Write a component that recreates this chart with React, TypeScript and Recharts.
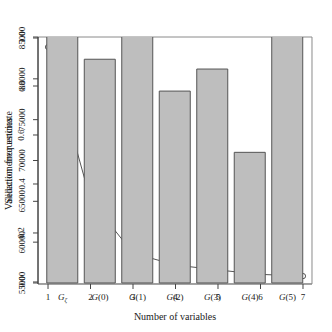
import React from 'react';
import { ComposedChart, Bar, Line, XAxis, YAxis } from 'recharts';

const categories = ['G_ζ', 'G(0)', 'G(1)', 'G(2)', 'G(3)', 'G(4)', 'G(5)'];
const errorEstimates = [87500, 82400, 86500, 78500, 81200, 71000, 88500];
const numVariables = [1, 2, 3, 4, 5, 6, 7];
const selectionFreq = [0.959, 0.335, 0.118, 0.069, 0.049, 0.031, 0.024];
const barBase = 55000;
const errTicks = [55000, 60000, 65000, 70000, 75000, 80000, 85000];
const freqTicks = [0, 0.2, 0.4, 0.6, 0.8, 1.0];
const varTicks = [1, 2, 3, 4, 5, 6, 7];

const data = categories.map((c, i) => ({
  name: c,
  x: numVariables[i],
  err: errorEstimates[i],
  freq: selectionFreq[i],
}));

const FONT = "'Liberation Serif', 'DejaVu Serif', serif";
const AXIS = '#444';
const BOX = '#8a8a8a';
const TXT = '#1a1a1a';

const YTick = (props: any) => {
  const { x, y, payload, fmt } = props;
  return (
    <text x={x} y={y} transform={`rotate(-90 ${x} ${y})`} textAnchor="middle" fontSize={9} fontFamily={FONT} fill={TXT}>
      {fmt(payload.value)}
    </text>
  );
};

const NumXTick = (props: any) => {
  const { x, y, payload } = props;
  return (
    <text x={x} y={y + 8} textAnchor="middle" fontSize={9} fontFamily={FONT} fill={TXT}>
      {String(payload.value)}
    </text>
  );
};

const CatXTick = (props: any) => {
  const { x, y, payload } = props;
  const v: string = payload.value;
  if (v.startsWith('G_')) {
    return (
      <text x={x} y={y + 8} textAnchor="middle" fontSize={9} fontFamily={FONT} fill={TXT}>
        <tspan fontStyle="italic">G</tspan>
        <tspan fontStyle="italic" fontSize={6.5} dy={2}>{v.slice(2)}</tspan>
      </text>
    );
  }
  return (
    <text x={x} y={y + 8} textAnchor="middle" fontSize={9} fontFamily={FONT} fill={TXT}>
      <tspan fontStyle="italic">G</tspan>
      <tspan>{v.slice(1)}</tspan>
    </text>
  );
};

const yTitle = (value: string) => (p: any) => {
  const vb = p.viewBox || {};
  const cx = (vb.x ?? 38) - 26;
  const cy = (vb.y ?? 37) + (vb.height ?? 247) / 2;
  return (
    <text x={cx} y={cy} transform={`rotate(-90 ${cx} ${cy})`} textAnchor="middle" fontSize={10} fontFamily={FONT} fill={TXT}>
      {value}
    </text>
  );
};

const xTitle = (value: string) => (p: any) => {
  const vb = p.viewBox || {};
  const cx = (vb.x ?? 38) + (vb.width ?? 274) / 2;
  const cy = (vb.y ?? 284) + 36;
  return (
    <text x={cx} y={cy} textAnchor="middle" fontSize={10} fontFamily={FONT} fill={TXT}>
      {value}
    </text>
  );
};

export default function App() {
  return (
    <div style={{ position: 'absolute', left: 0, top: 0, background: '#fff' }}>
      <ComposedChart width={332} height={332} data={data} margin={{ top: 37, right: 20, bottom: 48, left: 38 }}>
        <XAxis
          xAxisId="cat"
          dataKey="name"
          type="category"
          padding={{ left: 5.75, right: 5.75 }}
          height={0.01}
          axisLine={false}
          tickLine={false}
          tickSize={5}
          tickMargin={3}
          interval={0}
          tick={<CatXTick />}
        />
        <XAxis
          xAxisId="num"
          dataKey="x"
          type="number"
          domain={[0.7647, 7.2118]}
          allowDataOverflow
          ticks={varTicks}
          interval={0}
          height={0.01}
          stroke={AXIS}
          tickSize={5}
          tickMargin={3}
          tick={<NumXTick />}
          label={{ content: xTitle('Number of variables') }}
        />
        <XAxis xAxisId="frameTop" orientation="top" type="number" domain={[0, 1]} height={0.01} tick={false} tickLine={false} stroke={BOX} />
        <YAxis
          yAxisId="err"
          type="number"
          domain={[54878, 85122]}
          allowDataOverflow
          ticks={errTicks}
          interval={0}
          width={0.01}
          stroke={AXIS}
          tickSize={5}
          tickMargin={8.5}
          tick={<YTick fmt={(v: number) => String(v)} />}
          label={{ content: yTitle('Validation error estimate') }}
        />
        <YAxis
          yAxisId="freq"
          type="number"
          domain={[-0.0082, 1]}
          allowDataOverflow
          ticks={freqTicks}
          interval={0}
          width={0.01}
          stroke={AXIS}
          tickSize={5}
          tickMargin={8.5}
          tick={<YTick fmt={(v: number) => v.toFixed(1)} />}
          label={{ content: yTitle('Selection frequencies') }}
        />
        <YAxis yAxisId="frameRight" orientation="right" type="number" domain={[0, 1]} width={0.01} tick={false} tickLine={false} stroke={BOX} />
        <Line
          xAxisId="num"
          yAxisId="freq"
          dataKey="freq"
          type="linear"
          stroke="#555"
          strokeWidth={1}
          dot={{ r: 2.6, fill: 'none', stroke: '#555', strokeWidth: 1 }}
          isAnimationActive={false}
          zIndex={250}
        />
        <Bar
          xAxisId="cat"
          yAxisId="err"
          dataKey={(d: any) => [barBase, d.err]}
          barSize={31}
          fill="#bebebe"
          stroke="#555"
          strokeWidth={1}
          isAnimationActive={false}
          zIndex={900}
        />
      </ComposedChart>
    </div>
  );
}
